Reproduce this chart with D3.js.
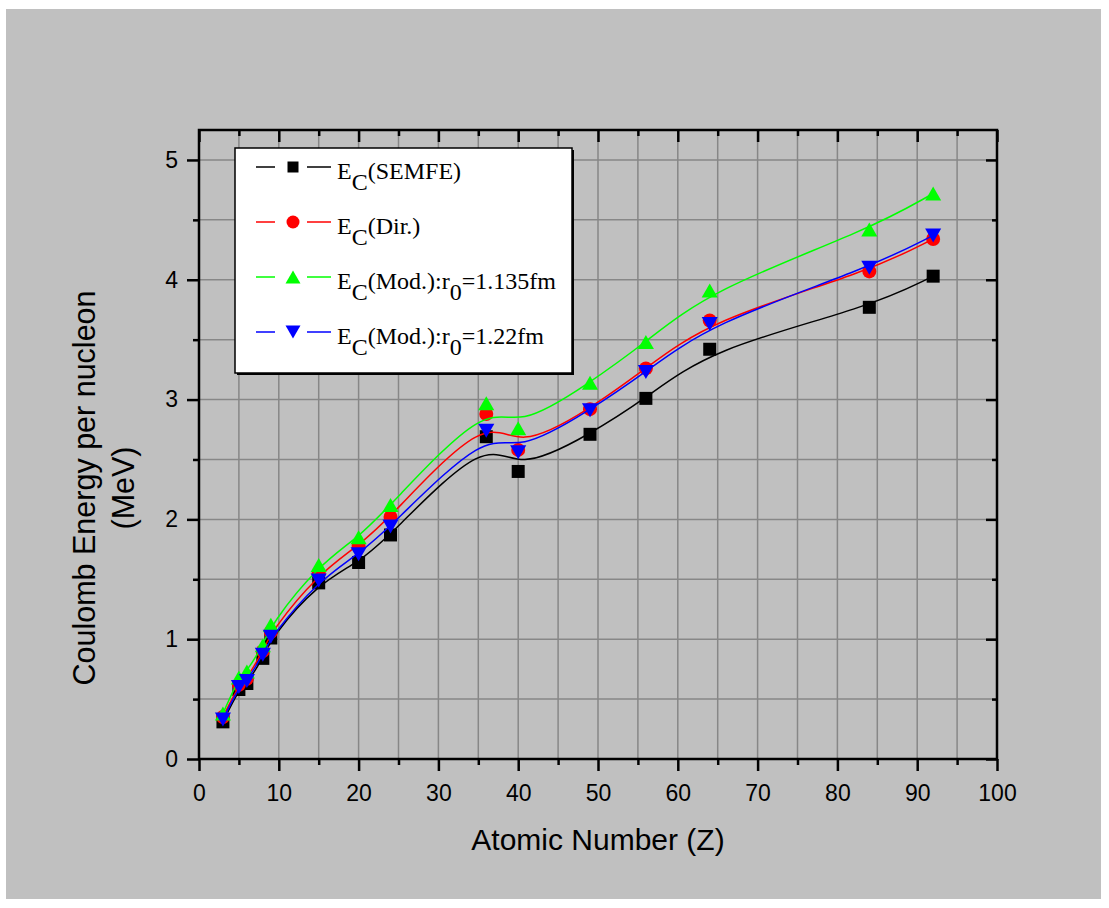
<!DOCTYPE html>
<html>
<head>
<meta charset="utf-8">
<script src="https://cdn.jsdelivr.net/npm/d3@7"></script>
<style>
  body { margin: 0; background: #fff; }
  svg { display: block; }
</style>
</head>
<body>
<svg id="chart" width="1109" height="908"></svg>
<script>
// atomic numbers of the nuclei
var zValues = [3, 5, 6, 8, 9, 15, 20, 24, 36, 40, 49, 56, 64, 84, 92];
// coulomb energy per nucleon (MeV)
var semfe = [0.31, 0.58, 0.63, 0.84, 1.01, 1.47, 1.64, 1.87, 2.69, 2.40, 2.71, 3.01, 3.42, 3.77, 4.03];
var direct = [0.35, 0.62, 0.67, 0.90, 1.06, 1.55, 1.78, 2.02, 2.88, 2.58, 2.92, 3.26, 3.66, 4.07, 4.34];
var mod1135 = [0.38, 0.68, 0.73, 0.95, 1.12, 1.62, 1.85, 2.12, 2.97, 2.76, 3.14, 3.48, 3.91, 4.42, 4.72];
var mod122 = [0.33, 0.60, 0.65, 0.87, 1.02, 1.49, 1.71, 1.94, 2.74, 2.56, 2.91, 3.23, 3.63, 4.10, 4.37];

var xTicks = [0, 10, 20, 30, 40, 50, 60, 70, 80, 90, 100];
var yTicks = [0, 1, 2, 3, 4, 5];

var series = [
    {values: semfe,   color: "#000000", symbol: "square",   label: ["(SEMFE)"]},
    {values: direct,  color: "#ff0000", symbol: "circle",   label: ["(Dir.)"]},
    {values: mod1135, color: "#00ff00", symbol: "triangle", label: ["(Mod.):r", "0", "=1.135fm"]},
    {values: mod122,  color: "#0000ff", symbol: "down",     label: ["(Mod.):r", "0", "=1.22fm"]}
];

var svg = d3.select("#chart");
var pLeft = 199, pRight = 997, pTop = 130, pBottom = 759;

var x = d3.scaleLinear().domain([0, 100]).range([pLeft, pRight]);
var y = d3.scaleLinear().domain([0, 5.25]).range([pBottom, pTop]);

// background
svg.append("rect").attr("x", 6).attr("y", 9).attr("width", 1095).attr("height", 890)
    .attr("fill", "#c0c0c0");

// grid
var grid = svg.append("g").attr("stroke", "#878787").attr("stroke-width", 1.5);
grid.selectAll("line.gx").data(d3.range(5, 100, 5)).enter().append("line")
    .attr("x1", function(d) { return x(d); }).attr("x2", function(d) { return x(d); })
    .attr("y1", pTop).attr("y2", pBottom);
grid.selectAll("line.gy").data(d3.range(0.5, 5.25, 0.5)).enter().append("line")
    .attr("x1", pLeft).attr("x2", pRight)
    .attr("y1", function(d) { return y(d); }).attr("y2", function(d) { return y(d); });

// axes
function noLabels(axis) { return axis.tickFormat(""); }
var xMinor = d3.range(5, 100, 10);
var yMinor = d3.range(0.5, 5.25, 1);

svg.append("g").attr("class", "ax").attr("transform", "translate(0," + pBottom + ")")
    .call(d3.axisBottom(x).tickValues(xTicks).tickSize(12).tickSizeOuter(0).tickPadding(14));
svg.append("g").attr("class", "ax minor").attr("transform", "translate(0," + pBottom + ")")
    .call(noLabels(d3.axisBottom(x).tickValues(xMinor).tickSize(6).tickSizeOuter(0)));
svg.append("g").attr("class", "ax").attr("transform", "translate(0," + pTop + ")")
    .call(noLabels(d3.axisBottom(x).tickValues(xTicks).tickSize(12).tickSizeOuter(0)));
svg.append("g").attr("class", "ax minor").attr("transform", "translate(0," + pTop + ")")
    .call(noLabels(d3.axisBottom(x).tickValues(xMinor).tickSize(6).tickSizeOuter(0)));

svg.append("g").attr("class", "ax").attr("transform", "translate(" + pLeft + ",0)")
    .call(d3.axisLeft(y).tickValues(yTicks).tickFormat(d3.format("d"))
        .tickSize(12).tickSizeOuter(0).tickPadding(9));
svg.append("g").attr("class", "ax minor").attr("transform", "translate(" + pLeft + ",0)")
    .call(noLabels(d3.axisLeft(y).tickValues(yMinor).tickSize(6).tickSizeOuter(0)));
svg.append("g").attr("class", "ax").attr("transform", "translate(" + pRight + ",0)")
    .call(noLabels(d3.axisLeft(y).tickValues(yTicks).tickSize(11).tickSizeOuter(0)));
svg.append("g").attr("class", "ax minor").attr("transform", "translate(" + pRight + ",0)")
    .call(noLabels(d3.axisLeft(y).tickValues(yMinor).tickSize(5).tickSizeOuter(0)));

svg.selectAll(".ax .domain").remove();
svg.selectAll(".ax line").attr("stroke", "#000").attr("stroke-width", 2.5);
svg.selectAll(".ax text").attr("fill", "#000")
    .style("font-family", "'Liberation Sans', Arial, sans-serif").style("font-size", "23px");

// frame
svg.append("rect").attr("x", pLeft).attr("y", pTop)
    .attr("width", pRight - pLeft).attr("height", pBottom - pTop)
    .attr("fill", "none").attr("stroke", "#000").attr("stroke-width", 2.5);

// axis titles
svg.append("text").attr("x", (pLeft + pRight) / 2).attr("y", 850)
    .attr("text-anchor", "middle")
    .style("font-family", "'Liberation Sans', Arial, sans-serif").style("font-size", "30px")
    .text("Atomic Number (Z)");
var yTitle = svg.append("text").attr("transform", "translate(95,488) rotate(-90)")
    .attr("text-anchor", "middle")
    .style("font-family", "'Liberation Sans', Arial, sans-serif").style("font-size", "30.5px");
yTitle.append("tspan").attr("x", 0).attr("y", 0).text("Coulomb Energy per nucleon");
yTitle.append("tspan").attr("x", 0).attr("y", 39).text("(MeV)");

// marker shapes, centred on the point
function symbolPath(kind, s) {
    var h = s / 2, w = s * 1.15;
    if (kind === "square") return "M" + (-h) + "," + (-h) + "h" + s + "v" + s + "h" + (-s) + "Z";
    if (kind === "circle") {
        var p = d3.path(); p.arc(0, 0, h, 0, 2 * Math.PI); p.closePath(); return p.toString();
    }
    if (kind === "triangle") return "M0," + (-h) + "L" + (w / 2) + "," + h + "L" + (-w / 2) + "," + h + "Z";
    return "M0," + h + "L" + (w / 2) + "," + (-h) + "L" + (-w / 2) + "," + (-h) + "Z";
}
var symbolSize = {square: 13, circle: 14, triangle: 14, down: 14};

var line = d3.line()
    .x(function(d) { return x(d[0]); })
    .y(function(d) { return y(d[1]); })
    .curve(d3.curveBasis);

series.forEach(function(s) {
    var pts = zValues.map(function(z, i) { return [z, s.values[i]]; });
    var g = svg.append("g");
    g.append("path").datum(pts).attr("d", line)
        .attr("fill", "none").attr("stroke", s.color).attr("stroke-width", 1.5);
    g.selectAll("path.m").data(pts).enter().append("path")
        .attr("transform", function(d) { return "translate(" + x(d[0]) + "," + y(d[1]) + ")"; })
        .attr("d", symbolPath(s.symbol, symbolSize[s.symbol]))
        .attr("fill", s.color);
});

// legend
var lg = svg.append("g");
lg.append("rect").attr("x", 237).attr("y", 150).attr("width", 337).attr("height", 225).attr("fill", "#000");
lg.append("rect").attr("x", 235).attr("y", 148).attr("width", 337).attr("height", 225)
    .attr("fill", "#fff").attr("stroke", "#000").attr("stroke-width", 1.5);

series.forEach(function(s, i) {
    var cy = 167 + i * 55;
    var row = lg.append("g");
    row.append("line").attr("x1", 256).attr("x2", 275).attr("y1", cy).attr("y2", cy)
        .attr("stroke", s.color).attr("stroke-width", 1.5);
    row.append("line").attr("x1", 307).attr("x2", 331).attr("y1", cy).attr("y2", cy)
        .attr("stroke", s.color).attr("stroke-width", 1.5);
    row.append("path").attr("transform", "translate(293," + cy + ")")
        .attr("d", symbolPath(s.symbol, s.symbol === "square" ? 11 : 13))
        .attr("fill", s.color);
    var t = row.append("text").attr("x", 337).attr("y", cy + 12)
        .style("font-family", "'Liberation Serif', 'Times New Roman', serif").style("font-size", "24px");
    t.append("tspan").text("E");
    t.append("tspan").attr("dy", 11).text("C");
    t.append("tspan").attr("dy", -11).text(s.label[0]);
    if (s.label.length > 1) {
        t.append("tspan").attr("dy", 11).text(s.label[1]);
        t.append("tspan").attr("dy", -11).text(s.label[2]);
    }
});
</script>
</body>
</html>
